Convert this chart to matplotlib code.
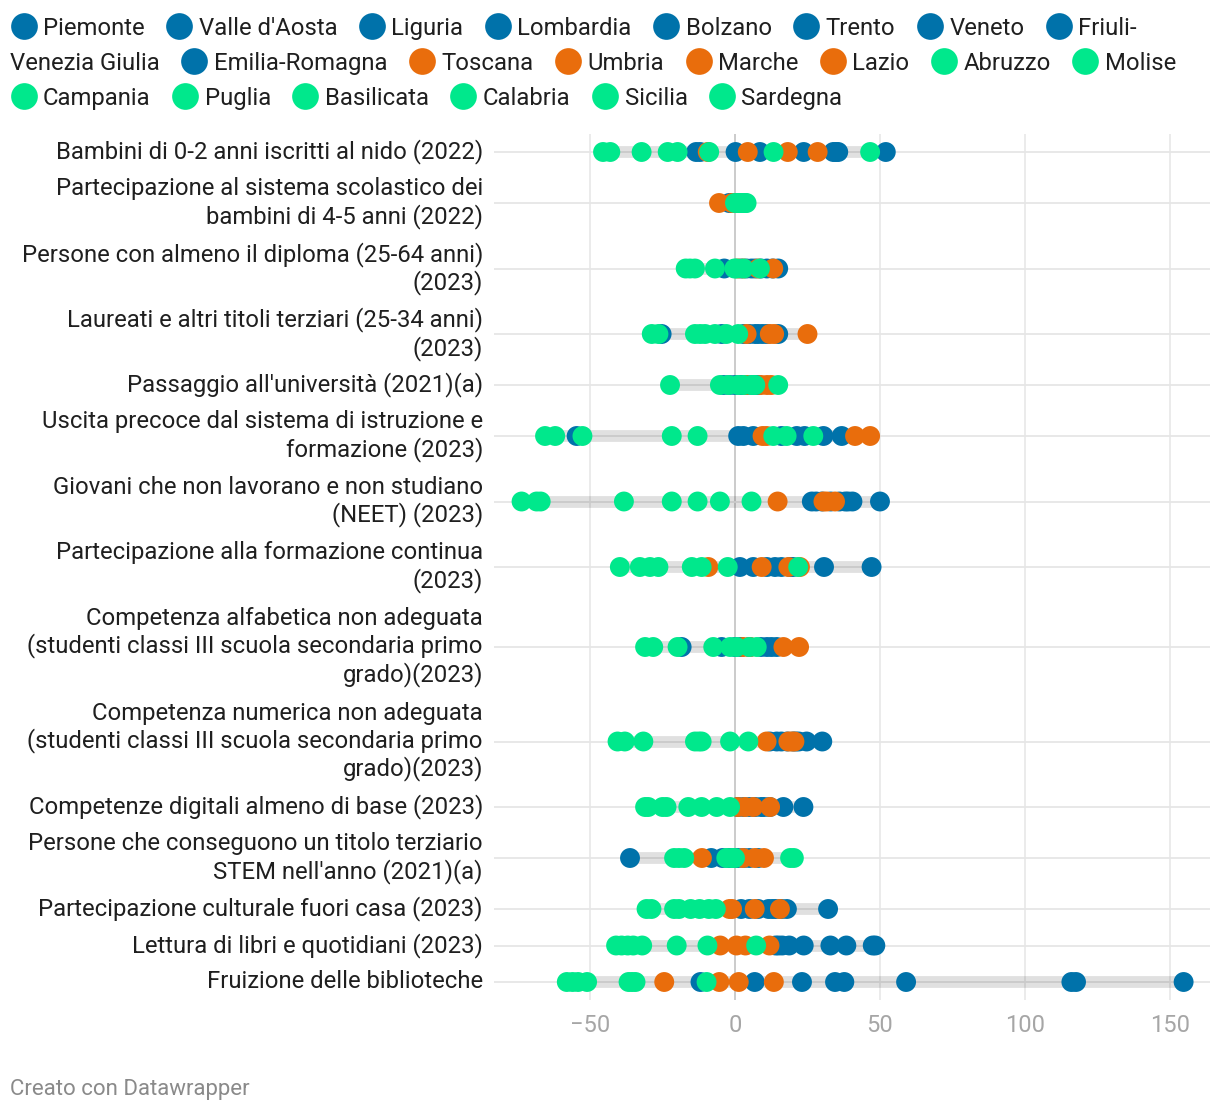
import matplotlib
matplotlib.use("Agg")
import matplotlib.pyplot as plt

plt.rcParams['font.family'] = ['Roboto', 'DejaVu Sans']

# ---------------- data ----------------
regions = ["Piemonte", "Valle d'Aosta", "Liguria", "Lombardia", "Bolzano", "Trento",
           "Veneto", "Friuli-Venezia Giulia", "Emilia-Romagna",
           "Toscana", "Umbria", "Marche", "Lazio",
           "Abruzzo", "Molise", "Campania", "Puglia", "Basilicata", "Calabria",
           "Sicilia", "Sardegna"]
groups = ["nord"] * 9 + ["centro"] * 4 + ["sud"] * 8
group_colors = {"nord": "#0072aa", "centro": "#e96d0c", "sud": "#00e88c"}

indicators = [
    "Bambini di 0-2 anni iscritti al nido (2022)",
    "Partecipazione al sistema scolastico dei\nbambini di 4-5 anni (2022)",
    "Persone con almeno il diploma (25-64 anni)\n(2023)",
    "Laureati e altri titoli terziari (25-34 anni)\n(2023)",
    "Passaggio all'università (2021)(a)",
    "Uscita precoce dal sistema di istruzione e\nformazione (2023)",
    "Giovani che non lavorano e non studiano\n(NEET) (2023)",
    "Partecipazione alla formazione continua\n(2023)",
    "Competenza alfabetica non adeguata\n(studenti classi III scuola secondaria primo\ngrado)(2023)",
    "Competenza numerica non adeguata\n(studenti classi III scuola secondaria primo\ngrado)(2023)",
    "Competenze digitali almeno di base (2023)",
    "Persone che conseguono un titolo terziario\nSTEM nell'anno (2021)(a)",
    "Partecipazione culturale fuori casa (2023)",
    "Lettura di libri e quotidiani (2023)",
    "Fruizione delle biblioteche",
]

# values in region order (9 nord, 4 centro, 8 sud)
nido = [0.2, 33.9, 8.6, -13.4, -12, 34.8, 23.7, 35.6, 52,
        28.5, 18.2, 4.4, -9.4,
        -8.9, 13.3, -45.5, -23.2, -19.8, -43, -32.2, 46.6]
scuola_4_5 = [-2, -1, 0, 0.5, 1, 1.5, 2, -0.5, 1,
              -5.5, -1, 0, 1,
              0, 1, 2, 3, 3.5, 4, 2.5, 1.5]
diploma = [-3.7, 2, 4, 5.7, 7, 9, 11, 13, 14.9,
           1, 2.9, 8, 13.2,
           -17, -15.5, -13.8, -6.9, -0.2, 0.5, 3, 8.6]
laureati = [-25.3, -4.6, 3, 5, 6.9, 8, 9.5, 11, 14.9,
            4, 12, 13.5, 25,
            -28.7, -26.4, -13.8, -12, -10.3, -6.9, -3, 1.1]
universita = [-4, -2, 0, 2, 3, 4, 6, 7, 8,
              4, 9, 11, 12.5,
              -22.4, -5.2, -2.3, 1.1, 3, 5.7, 7, 14.9]
uscita_precoce = [-54.6, 1.1, 2.9, 6.3, 16, 21.3, 24, 30.5, 36.8,
                  9.5, 10.9, 41.4, 46.6,
                  -65.5, -62, -52.6, -21.8, -12.9, 13.2, 17.8, 27]
neet = [26.5, 28, 30, 33, 36, 38, 39, 40.5, 50,
        14.7, 30.5, 31.6, 34.5,
        -73.6, -68.4, -67, -38.3, -21.8, -12.9, -5.2, 5.7]
formazione = [1.7, 6.3, 11, 13.8, 16, 19, 20, 30.7, 47.1,
              -9.2, 9.2, 18.4, 22.4,
              -39.7, -32.8, -29.3, -26.4, -14.9, -11.5, -2.5, 21.8]
alfabetica = [-18.4, -4.6, 0, 2, 5, 9, 11, 12.6, 14.4,
              2.9, 5.2, 16.7, 22.1,
              -31, -28.2, -19.8, -7.5, -1.7, 0.5, 5, 7.5]
numerica = [12, 14.4, 16, 18, 20, 21, 22, 24.7, 30.1,
            10.9, 18.4, 19.5, 20.5,
            -40.5, -38, -31.6, -13.8, -12.5, -11.5, -1.7, 4.6]
digitali = [1, 3, 5, 7, 9, 10, 12, 16.7, 23.6,
            1, 3.4, 6.3, 12.1,
            -31, -29.9, -25, -23.6, -16.1, -11.5, -6.3, -1.7]
stem = [-36.2, -8.2, -4.3, -2, 0, 1, 3, 5, 8,
        -11.4, 2.8, 6.8, 10,
        -21, -19.3, -17.5, -3, -1.1, 0, 19, 20.3]
culturale = [2.1, 5, 8, 11.6, 13, 14, 16, 17.9, 32.1,
             -1.9, -1, 6.8, 15.5,
             -30.5, -28.8, -21, -19.3, -15.3, -12.2, -9, -6.6]
lettura = [14, 15, 16.3, 18.7, 23.7, 32.9, 38.4, 47.5, 48.4,
           -5.1, 0.5, 3.6, 11.9,
           -41, -39.1, -37, -35.1, -32, -20.1, -9.5, 7.3]
biblioteche = [-11.9, 6.8, 23.1, 34.5, 37.7, 59, 116, 117.6, 154.7,
               -24.4, -5.4, 1.3, 13.4,
               -58, -56, -54.1, -51, -36.7, -35.5, -34.3, -9.8]

series = [nido, scuola_4_5, diploma, laureati, universita, uscita_precoce, neet,
          formazione, alfabetica, numerica, digitali, stem, culturale, lettura,
          biblioteche]

x_ticks = [-50, 0, 50, 100, 150]
x_tick_labels = ["\u221250", "0", "50", "100", "150"]

# ---------------- figure ----------------
W, H = 1220, 1110
fig = plt.figure(figsize=(W / 100, H / 100), dpi=100)

# row layout (pixel units) derived from number of label lines
heights = [7.5 + 29 * (lab.count("\n") + 1) for lab in indicators]
centers = []
acc = 0
for h in heights:
    centers.append(acc + h / 2)
    acc += h
total = acc

ax_top_px, ax_left_px, ax_right_px = 133.75, 494, 1210
ax = fig.add_axes([ax_left_px / W, (H - ax_top_px - total) / H,
                   (ax_right_px - ax_left_px) / W, total / H])
ax.set_ylim(total, 0)
ax.set_xlim(-83.1, 163.8)
for s in ax.spines.values():
    s.set_visible(False)

# grid
for xt in x_ticks:
    ax.axvline(xt, color="#bdbdbd" if xt == 0 else "#e6e6e6", lw=1.1, zorder=1)
for c in centers:
    ax.axhline(c, color="#e6e6e6", lw=1.3, zorder=1)

colors = [group_colors[g] for g in groups]
for c, vals in zip(centers, series):
    ax.plot([min(vals), max(vals)], [c, c], color=(0, 0, 0, 0.12), lw=8.5,
            solid_capstyle="butt", zorder=2)
    ax.scatter(vals, [c] * len(vals), s=205, c=colors, linewidths=0, zorder=3)

ax.set_xticks(x_ticks, x_tick_labels)
ax.set_yticks(centers, indicators)
ax.tick_params(axis="x", length=0, pad=10, labelsize=17, labelcolor="#a6a6a6")
ax.tick_params(axis="y", length=0, pad=8, labelsize=17.2, labelcolor="#1f1f1f")
for t in ax.get_yticklabels():
    t.set_linespacing(1.17)
    t.set_verticalalignment("center")

# ---------------- legend (flow layout, pixel coords) ----------------
ov = fig.add_axes([0, 0, 1, 1], zorder=5)
ov.set_xlim(0, W)
ov.set_ylim(H, 0)
ov.axis("off")
ov.patch.set_alpha(0)

renderer = fig.canvas.get_renderer()
leg_fs = 17.2
def text_w(s):
    t = ov.text(0, 0, s, fontsize=leg_fs)
    w = t.get_window_extent(renderer).width
    t.remove()
    return w

left, maxx = 10, 1212
mark_w, mark_gap, item_gap = 27, 6, 21
line_y0, line_h = 26, 35
line = 0
x = left

def put_marker(x, y, col):
    ov.scatter([x + mark_w / 2], [y], s=370, c=col, linewidths=0)

def put_text(x, y, s):
    ov.text(x, y, s, fontsize=leg_fs, color="#1f1f1f", va="center_baseline", ha="left")

for name, g in zip(regions, groups):
    col = group_colors[g]
    y = line_y0 + line * line_h
    w = mark_w + mark_gap + text_w(name)
    if x + w <= maxx:
        put_marker(x, y, col)
        put_text(x + mark_w + mark_gap, y, name)
        x += w + item_gap
        continue
    if "-" in name:
        i = name.index("-")
        p1, p2 = name[:i + 1], name[i + 1:]
        w1 = mark_w + mark_gap + text_w(p1)
        if x + w1 <= maxx:
            put_marker(x, y, col)
            put_text(x + mark_w + mark_gap, y, p1)
            line += 1
            y = line_y0 + line * line_h
            put_text(left, y, p2)
            x = left + text_w(p2) + item_gap
            continue
    line += 1
    y = line_y0 + line * line_h
    x = left
    put_marker(x, y, col)
    put_text(x + mark_w + mark_gap, y, name)
    x += w + item_gap

ov.text(10, 1087, "Creato con Datawrapper", fontsize=16, color="#8a8a8a",
        va="center_baseline", ha="left")

fig.savefig("out.png", dpi=100)
